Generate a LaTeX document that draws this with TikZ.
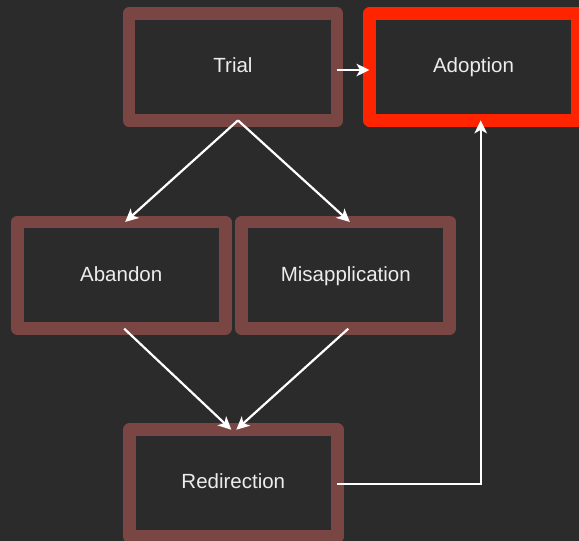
\documentclass[tikz,border=0pt]{standalone}
\usepackage{fontspec}
\setmainfont{Liberation Sans}
\usetikzlibrary{arrows.meta,calc}
\definecolor{bgdark}{RGB}{43,43,43}
\definecolor{boxedge}{RGB}{122,70,67}
\definecolor{hotedge}{RGB}{255,36,0}
\definecolor{labeltext}{RGB}{236,236,236}
\tikzset{
  stage/.style={draw=boxedge, fill=bgdark, line width=12.7pt, line join=round,
    inner sep=0pt, outer sep=0pt, text=labeltext, text height=14.7pt, text depth=3.2pt,
    font=\fontsize{20.5}{24}\selectfont},
  wide/.style={minimum width=208pt, minimum height=106.7pt},
  flow/.style={draw=white, line width=2.2pt,
    -{Stealth[length=13pt,width=12.5pt,inset=3.5pt]}}
}
\begin{document}
\begin{tikzpicture}[x=1pt,y=-1pt]
  \fill[bgdark] (0,0) rectangle (579,541);
  \useasboundingbox (0,0) rectangle (579,541);

  \node[stage, wide] (trial) at (233,67) {Trial};
  \node[stage, wide, draw=hotedge] (adopt) at (473.5,67) {Adoption};
  \node[stage, wide] (aband) at (121.2,275.3) {Abandon};
  \node[stage, wide] (misap) at (345.8,275.3) {Misapplication};
  \node[stage, wide, minimum height=107pt] (redir) at (233.3,483.2) {Redirection};

  \draw[flow] ($(trial.east)+(0,3)$) -- ($(adopt.west)+(0,3)$);
  \draw[flow] ($(trial.south)+(5,0)$) -- ($(aband.north)+(4,0)$);
  \draw[flow] ($(trial.south)+(5,0)$) -- ($(misap.north)+(4,0)$);
  \draw[flow] ($(aband.south)+(3,0)$) -- ($(redir.north)+(-2,0)$);
  \draw[flow] ($(misap.south)+(2.5,0)$) -- ($(redir.north)+(3,0)$);
  \draw[flow] ($(redir.east)+(0,1)$) -| ($(adopt.south)+(7.2,0)$);
\end{tikzpicture}
\end{document}
